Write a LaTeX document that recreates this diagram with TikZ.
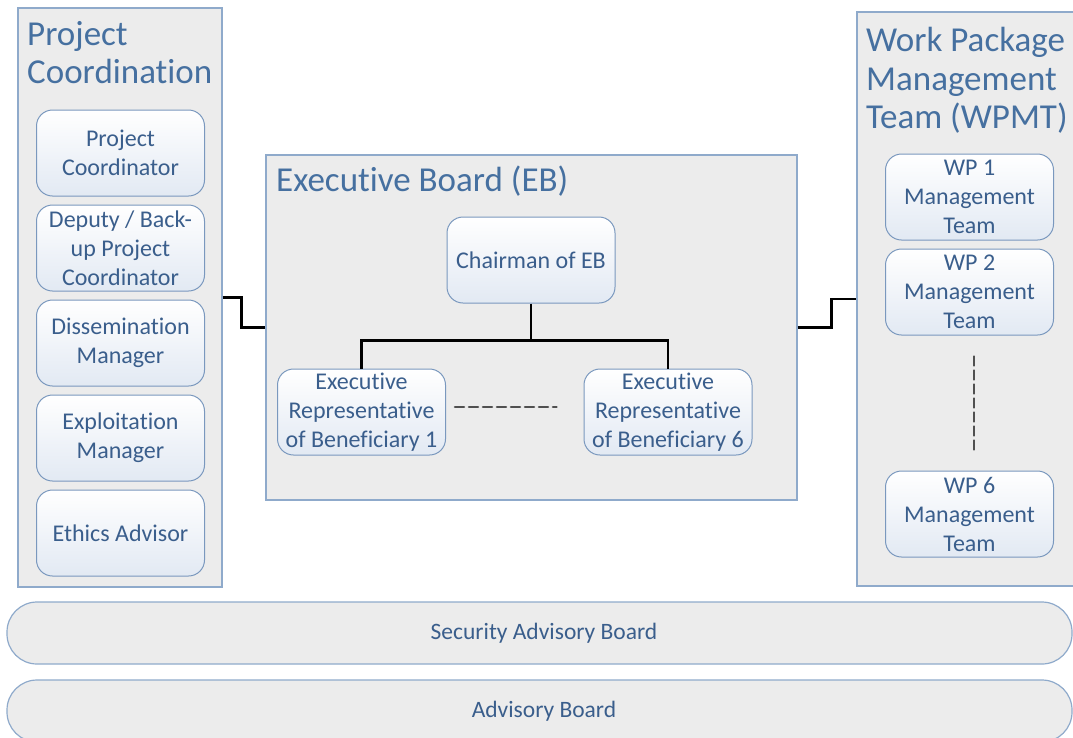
\documentclass[tikz,border=0pt]{standalone}
\usepackage{fontspec}
\setmainfont[RawFeature={-liga;-clig;-calt;-dlig;-rlig}]{Carlito}
\usepackage{tikz}
\usepackage{xcolor}
\usetikzlibrary{calc, positioning}
\definecolor{paneFill}{RGB}{236,236,236}
\definecolor{paneLine}{RGB}{143,170,203}
\definecolor{boxLine}{RGB}{122,152,190}
\definecolor{boxShade}{RGB}{226,233,243}
\definecolor{labelBlue}{RGB}{58,94,140}
\definecolor{titleBlue}{RGB}{70,112,160}
\definecolor{dashGray}{RGB}{80,80,80}

\begin{document}
\begin{tikzpicture}[x=1pt, y=-1pt,
    panel/.style={draw=paneLine, fill=paneFill, line width=1.2pt, inner sep=0pt},
    role/.style={draw=boxLine, line width=1pt, rounded corners=16pt, top color=white, bottom color=boxShade,
        minimum width=168pt, minimum height=86pt, align=center, text=labelBlue,
        font=\fontsize{24}{29}\selectfont, inner sep=0pt},
    title/.style={anchor=north west, align=left, inner sep=0pt, text=titleBlue, font=\fontsize{35}{38.5}\selectfont},
    bar/.style={draw=paneLine, fill=paneFill, line width=1.2pt, rounded corners=30pt,
        minimum width=1065pt, minimum height=62pt, text=labelBlue, font=\fontsize{23.5}{26}\selectfont},
    link/.style={line width=2.6pt, black},
    gap/.style={line width=2.6pt, dashGray, dash pattern=on 9pt off 5pt, line cap=round}]
                        \clip (0,0) rectangle (1073,737);
                        % project coordination
                        \node[panel, minimum width=204pt, minimum height=579pt] (pcoord) at (120,297.5) {};
                        \node[title] (pcoordT) at (27,21) {Project\\Coordination};
                        \node[role] (pc) at (120.5,153) {Project\\Coordinator};
                        \node[role] (deputy) at (120.5,248) {Deputy / Back-\\up Project\\Coordinator};
                        \node[role] (dissem) at (120.5,343) {Dissemination\\Manager};
                        \node[role] (exploit) at (120.5,438) {Exploitation\\Manager};
                        \node[role] (ethics) at (120.5,533) {Ethics Advisor};
                        % executive board
                        \node[panel, minimum width=531pt, minimum height=345pt] (eb) at (531.5,327.5) {};
                        \node[title] (ebT) at (276,166) {Executive Board (EB)};
                        \node[role] (chair) at (531,260) {Chairman of EB};
                        \node[role] (rep1) at (361.5,412) {Executive\\Representative\\of Beneficiary 1};
                        \node[role] (rep6) at (668,412) {Executive\\Representative\\of Beneficiary 6};
                        % work packages
                        \node[panel, minimum width=240pt, minimum height=574pt] (wpmt) at (977,299) {};
                        \node[title] (wpmtT) at (866,27) {Work Package\\Management\\Team (WPMT)};
                        \node[role] (wp1) at (969.5,197) {WP 1\\Management\\Team};
                        \node[role] (wp2) at (969.5,292) {WP 2\\Management\\Team};
                        \node[role] (wp6) at (969.5,514) {WP 6\\Management\\Team};
                        % boards
                        \node[bar] (sab) at (539.5,633) {\hspace*{9pt}Security Advisory Board};
                        \node[bar] (ab) at (539.5,711) {\hspace*{9pt}Advisory Board};
                        \draw[link]
                        (chair.south) -- ++(0,37) coordinate (fork)
                        (fork) -| (rep1.north)
                        (fork) -| (rep6.north)
                        (pcoord.east) -- ++(19,0) |- (eb.west)
                        (eb.east) -- ++(34,0) |- (wpmt.west);
                        \draw[gap]
                        ([xshift=9pt, yshift=5pt]rep1.east) -- ([xshift=-27pt, yshift=5pt]rep6.west)
                        ([xshift=4.5pt, yshift=-21pt]wp2.south) -- ([xshift=4.5pt, yshift=19pt]wp6.north);
                    \end{tikzpicture}
\end{document}
